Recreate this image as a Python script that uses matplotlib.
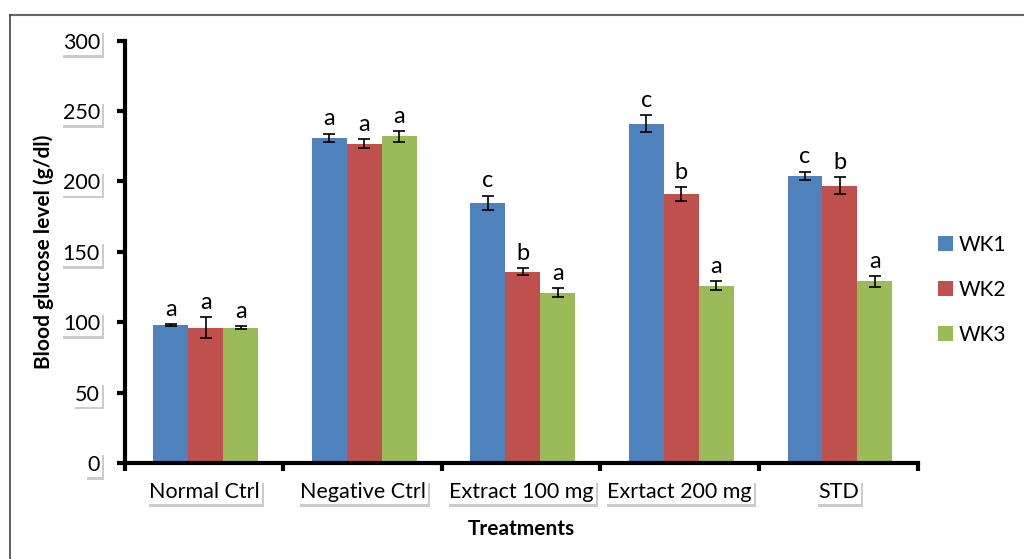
import numpy as np
import matplotlib.pyplot as plt
import matplotlib.patheffects as pe
from matplotlib.lines import Line2D

plt.rcParams['font.family'] = ['Lato', 'DejaVu Sans']

treatments = ['Normal Ctrl', 'Negative Ctrl', 'Extract 100 mg', 'Exrtact 200 mg', 'STD']
weeks = ['WK1', 'WK2', 'WK3']
wk1 = [98, 231, 185, 241, 204]
wk2 = [96, 227, 136, 191, 197]
wk3 = [96, 232, 121, 126, 129]
wk1_err = [0.6, 3, 5, 6, 3]
wk2_err = [7.5, 3, 2.5, 5, 6]
wk3_err = [1, 4, 3, 3, 4]
wk1_sig = ['a', 'a', 'c', 'c', 'c']
wk2_sig = ['a', 'a', 'b', 'b', 'b']
wk3_sig = ['a', 'a', 'a', 'a', 'a']
colors = ['#4f81bd', '#c0504d', '#9bbb59']

fig = plt.figure(figsize=(10.24, 5.59), dpi=100)
ax = fig.add_axes([0.122, 0.172, 0.774, 0.755])

x = np.arange(len(treatments))
w = 0.22
series = [(wk1, wk1_err, wk1_sig), (wk2, wk2_err, wk2_sig), (wk3, wk3_err, wk3_sig)]
for i, (vals, errs, sigs) in enumerate(series):
    pos = x + (i - 1) * w + 0.01
    ax.bar(pos, vals, w, color=colors[i], label=weeks[i], yerr=errs,
           error_kw=dict(ecolor='black', elinewidth=1.2, capsize=4, capthick=1.2))
    for p, v, e, s in zip(pos, vals, errs, sigs):
        ax.text(p, v + e + 3, s, ha='center', va='bottom', fontsize=17)

ax.set_xlim(-0.5, len(treatments) - 0.5)
ax.set_ylim(0, 300)
ax.set_yticks(range(0, 301, 50))
ax.set_xticks(x)
ax.set_xticklabels(treatments)
ax.set_xticks(np.arange(-0.5, len(treatments)), minor=True)
ax.tick_params(axis='x', which='major', length=0, pad=14, labelsize=15.5)
ax.tick_params(axis='x', which='minor', length=6, width=3, direction='out')
ax.tick_params(axis='y', length=6, width=3, direction='out', pad=12, labelsize=15.5)

for sp in ['top', 'right']:
    ax.spines[sp].set_visible(False)
for sp in ['left', 'bottom']:
    ax.spines[sp].set_linewidth(3)

shadow = [pe.withSimplePatchShadow(offset=(1.5, -2), shadow_rgbFace='#999999', alpha=0.5)]
for lab in ax.get_xticklabels() + ax.get_yticklabels():
    lab.set_bbox(dict(facecolor='white', edgecolor='none', pad=1.5))
    lab.get_bbox_patch().set_path_effects(shadow)

ax.set_ylabel('Blood glucose level (g/dl)', fontsize=15, fontweight='bold', labelpad=6)
ax.set_xlabel('Treatments', fontsize=15, fontweight='bold', labelpad=12)

ax.legend(loc='center left', bbox_to_anchor=(1.01, 0.41), frameon=False, fontsize=15,
          handlelength=0.7, handleheight=0.7, handletextpad=0.3, labelspacing=1.2,
          borderaxespad=0.2)

fig.add_artist(Line2D([0.01, 1.0], [0.973, 0.973], transform=fig.transFigure, color='#666666', lw=1.5))
fig.add_artist(Line2D([0.01, 0.01], [0.0, 0.973], transform=fig.transFigure, color='#444444', lw=1.2))

fig.savefig('out.png', dpi=100)
